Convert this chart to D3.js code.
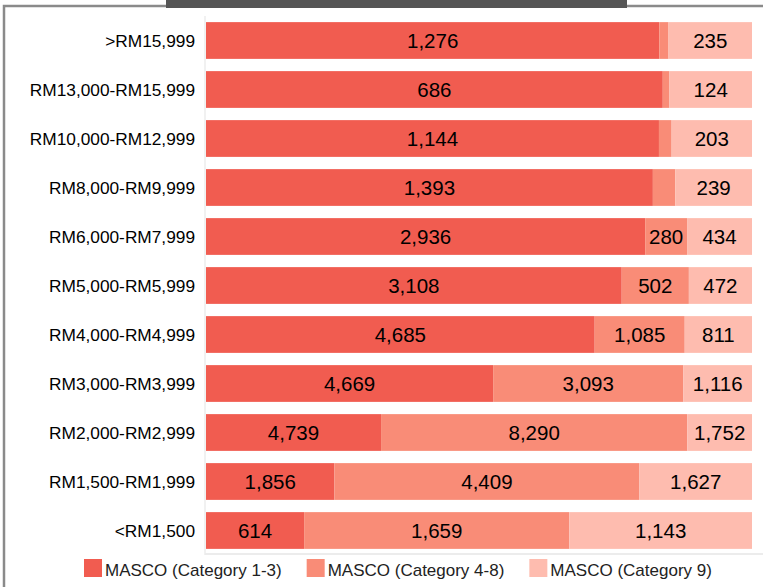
<!DOCTYPE html>
<html>
<head>
<script src="https://d3js.org/d3.v7.min.js"></script>
<style>
  body { margin: 0; background: #fff; }
  svg { display: block; font-family: "Liberation Sans", Arial, sans-serif; }
</style>
</head>
<body>
<svg id="chart" width="763" height="587"></svg>
<script>
// income groups, top to bottom
const categories = [">RM15,999", "RM13,000-RM15,999", "RM10,000-RM12,999", "RM8,000-RM9,999",
  "RM6,000-RM7,999", "RM5,000-RM5,999", "RM4,000-RM4,999", "RM3,000-RM3,999",
  "RM2,000-RM2,999", "RM1,500-RM1,999", "<RM1,500"];
const cat13 = [1276, 686, 1144, 1393, 2936, 3108, 4685, 4669, 4739, 1856, 614];
const cat48 = [26, 10, 32, 70, 280, 502, 1085, 3093, 8290, 4409, 1659];
const cat9  = [235, 124, 203, 239, 434, 472, 811, 1116, 1752, 1627, 1143];
const seriesNames = ["MASCO (Category 1-3)", "MASCO (Category 4-8)", "MASCO (Category 9)"];
const colors = ["#f15c50", "#f98c77", "#febcaf"];

const svg = d3.select("#chart");

// outer frame + dark title strip (cut off at top)
svg.append("path")
  .attr("d", "M4,587 V6 H763")
  .attr("fill", "none").attr("stroke", "#8a8a8a").attr("stroke-width", 2.5);
svg.append("rect").attr("x", 166).attr("y", 0).attr("width", 461).attr("height", 8).attr("fill", "#555");
svg.append("text").attr("x", 408).attr("y", -3).attr("text-anchor", "middle")
  .attr("fill", "#fff").attr("font-size", 17).text("(RM)");

const data = categories.map((c, i) => ({ cat: c, v: [cat13[i], cat48[i], cat9[i]] }));

const x = d3.scaleLinear().domain([0, 1]).range([206, 752]);
const y = d3.scaleBand().domain(categories).range([16, 555]).paddingInner(0.25).paddingOuter(0.125);

// light axis lines
svg.append("line").attr("x1", 205).attr("x2", 205).attr("y1", 16).attr("y2", 555)
  .attr("stroke", "#ececec").attr("stroke-width", 1.5);
svg.append("line").attr("x1", 205).attr("x2", 763).attr("y1", 554).attr("y2", 554)
  .attr("stroke", "#ececec").attr("stroke-width", 2);

const rows = svg.selectAll(".row").data(data).enter().append("g").attr("class", "row");

rows.each(function(d) {
  const g = d3.select(this);
  const total = d3.sum(d.v);
  let acc = 0;
  d.v.forEach((val, k) => {
    const x0 = x(acc / total), x1 = x((acc + val) / total);
    acc += val;
    g.append("rect")
      .attr("x", x0).attr("y", y(d.cat))
      .attr("width", x1 - x0).attr("height", y.bandwidth())
      .attr("fill", colors[k]);
    if (x1 - x0 > 30) {
      g.append("text")
        .attr("x", (x0 + x1) / 2).attr("y", y(d.cat) + y.bandwidth() / 2)
        .attr("dy", "0.36em").attr("text-anchor", "middle")
        .attr("font-size", 20.5).attr("fill", "#000")
        .text(d3.format(",")(val));
    }
  });
});

// category labels
svg.selectAll(".cat").data(categories).enter().append("text")
  .attr("x", 195).attr("y", d => y(d) + y.bandwidth() / 2)
  .attr("dy", "0.36em").attr("text-anchor", "end")
  .attr("font-size", 17.3).attr("fill", "#000")
  .text(d => d);

// legend
let lx = 84;
seriesNames.forEach((name, k) => {
  svg.append("rect").attr("x", lx).attr("y", 559).attr("width", 18).attr("height", 18).attr("fill", colors[k]);
  const t = svg.append("text").attr("x", lx + 21).attr("y", 570).attr("dy", "0.36em")
    .attr("font-size", 17).attr("fill", "#222").text(name);
  lx += 21 + t.node().getComputedTextLength() + 25;
});
</script>
</body>
</html>
